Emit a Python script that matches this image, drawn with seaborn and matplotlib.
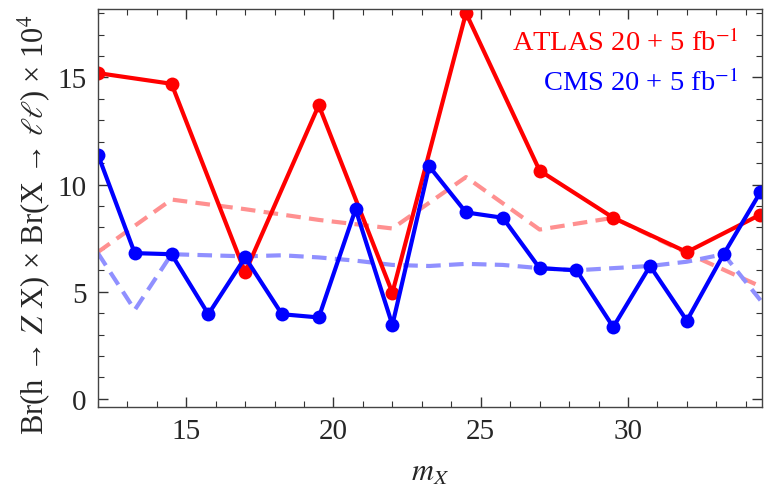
import numpy as np
import pandas as pd
import seaborn as sns
import matplotlib.pyplot as plt
from matplotlib.ticker import MultipleLocator

# ATLAS observed (solid red) and expected (dashed pale red)
atlas_mx = [12, 14.5, 17, 19.5, 22, 24.5, 27, 29.5, 32, 34.5]
atlas_obs = [15.2, 14.7, 5.9, 13.7, 4.95, 18.0, 10.65, 8.45, 6.85, 8.6]
atlas_exp = [6.85, 9.3, 8.85, 8.35, 7.95, 10.35, 7.9, 8.45, 6.8, 5.25]

# CMS observed (solid blue) and expected (dashed pale blue)
cms_mx = [12, 13.25, 14.5, 15.75, 17, 18.25, 19.5, 20.75, 22, 23.25,
          24.5, 25.75, 27, 28.25, 29.5, 30.75, 32, 33.25, 34.5]
cms_obs = [11.4, 6.8, 6.75, 3.95, 6.6, 3.95, 3.8, 8.85, 3.45, 10.85,
           8.7, 8.45, 6.1, 6.0, 3.35, 6.2, 3.65, 6.75, 9.65]
cms_exp = [6.8, 4.15, 6.75, 6.7, 6.65, 6.7, 6.6, 6.45, 6.25, 6.2,
           6.3, 6.25, 6.1, 6.0, 6.1, 6.2, 6.4, 6.75, 4.6]

sns.set_style('ticks')
plt.rcParams['font.family'] = ['Liberation Serif', 'DejaVu Serif']
plt.rcParams['mathtext.fontset'] = 'stix'

fig = plt.figure(figsize=(7.65, 4.89), dpi=100)
ax = fig.add_axes([0.128, 0.166, 0.868, 0.814])

atlas = pd.DataFrame({'mx': atlas_mx, 'obs': atlas_obs, 'exp': atlas_exp})
cms = pd.DataFrame({'mx': cms_mx, 'obs': cms_obs, 'exp': cms_exp})

dash = (0, (3.5, 2))
sns.lineplot(data=atlas, x='mx', y='exp', ax=ax, color='#ff9090',
             linewidth=3, linestyle=dash)
sns.lineplot(data=cms, x='mx', y='exp', ax=ax, color='#9090ff',
             linewidth=3, linestyle=dash)
sns.lineplot(data=atlas, x='mx', y='obs', ax=ax, color='#ff0000',
             linewidth=3, marker='o', markersize=10, markeredgewidth=0)
sns.lineplot(data=cms, x='mx', y='obs', ax=ax, color='#0000ff',
             linewidth=3, marker='o', markersize=10, markeredgewidth=0)

ax.set_xlim(12, 34.55)
ax.set_ylim(-0.37, 18.2)
ax.xaxis.set_major_locator(MultipleLocator(5))
ax.xaxis.set_minor_locator(MultipleLocator(1))
ax.yaxis.set_major_locator(MultipleLocator(5))
ax.yaxis.set_minor_locator(MultipleLocator(1))
ax.tick_params(which='both', direction='in', top=True, right=True,
               color='#333333', labelsize=21, pad=8)
ax.tick_params(which='major', length=7, width=1)
ax.tick_params(which='minor', length=4, width=0.8)
for s in ax.spines.values():
    s.set_color('#444444')
    s.set_linewidth(1)

ax.set_xlabel(r'$m_X$', fontsize=22, labelpad=10)
ax.set_ylabel('Br(h \u2192 $Z$ X) \u00d7 Br(X \u2192 $\\ell\\ell$) \u00d7 10$^4$',
              fontsize=22)
ax.yaxis.set_label_coords(-0.068, 0.46)

ax.text(0.965, 0.915, r'ATLAS 20 + 5 fb$^{-1}$', transform=ax.transAxes,
        ha='right', va='center', color='#ff0000', fontsize=20.5)
ax.text(0.965, 0.815, r'CMS 20 + 5 fb$^{-1}$', transform=ax.transAxes,
        ha='right', va='center', color='#0000ff', fontsize=20.5)

fig.savefig('out.png', dpi=100)
